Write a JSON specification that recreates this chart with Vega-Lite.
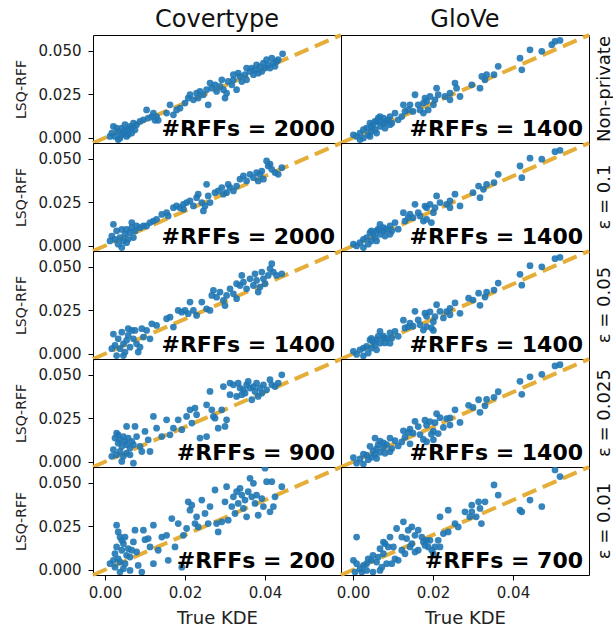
{
"$schema":"https://vega.github.io/schema/vega-lite/v6.json",
"padding":{"left":14,"top":8,"right":2,"bottom":2},
"bounds":"flush",
"config":{
"font":"DejaVu Sans",
"view":{"stroke":"black","strokeWidth":1},
"axis":{"grid":false,"domain":false,"tickColor":"black","tickSize":5,"labelFont":"DejaVu Sans","labelFontSize":15,"labelColor":"#222","titleFont":"DejaVu Sans","titleFontWeight":"normal","titleColor":"#222"},
"header":{"labelFont":"DejaVu Sans","labelColor":"#111"}
},
"data":{"values":[
{"d":"C","p":0,"label":"#RFFs = 2000"},{"d":"C","p":1,"label":"#RFFs = 2000"},{"d":"C","p":2,"label":"#RFFs = 1400"},{"d":"C","p":3,"label":"#RFFs = 900"},{"d":"C","p":4,"label":"#RFFs = 200"},
{"d":"G","p":0,"label":"#RFFs = 1400"},{"d":"G","p":1,"label":"#RFFs = 1400"},{"d":"G","p":2,"label":"#RFFs = 1400"},{"d":"G","p":3,"label":"#RFFs = 1400"},{"d":"G","p":4,"label":"#RFFs = 700"},
{"d":"C","p":0,"x":0.0021,"y":0.0065},{"d":"C","p":0,"x":0.0017,"y":0.0027},{"d":"C","p":0,"x":0.0025,"y":0.0008},{"d":"C","p":0,"x":0.0033,"y":0.0036},{"d":"C","p":0,"x":0.00375,"y":-0.0002},{"d":"C","p":0,"x":0.0042,"y":0.0055},{"d":"C","p":0,"x":0.0046,"y":0.0027},{"d":"C","p":0,"x":0.005,"y":0.0075},{"d":"C","p":0,"x":0.0054,"y":0.0008},{"d":"C","p":0,"x":0.0058,"y":0.0046},{"d":"C","p":0,"x":0.00625,"y":0.0065},{"d":"C","p":0,"x":0.0067,"y":0.0027},{"d":"C","p":0,"x":0.0071,"y":0.0084},{"d":"C","p":0,"x":0.0033,"y":-0.0011},{"d":"C","p":0,"x":0.0029,"y":0.0055},{"d":"C","p":0,"x":0.00125,"y":0.0008},{"d":"C","p":0,"x":0.0042,"y":0.0017},{"d":"C","p":0,"x":0.005,"y":0.0036},{"d":"C","p":0,"x":0.0058,"y":0.0017},{"d":"C","p":0,"x":0.0067,"y":0.0055},{"d":"C","p":0,"x":0.0075,"y":0.0046},{"d":"C","p":0,"x":0.0079,"y":0.0075},
{"d":"C","p":0,"x":0.00875,"y":0.0094},{"d":"C","p":0,"x":0.0096,"y":0.0103},{"d":"C","p":0,"x":0.0104,"y":0.016},{"d":"C","p":0,"x":0.0108,"y":0.0113},{"d":"C","p":0,"x":0.0117,"y":0.0122},{"d":"C","p":0,"x":0.0125,"y":0.01},{"d":"C","p":0,"x":0.0129,"y":0.0122},{"d":"C","p":0,"x":0.0133,"y":0.01},{"d":"C","p":0,"x":0.0121,"y":0.0142},
{"d":"C","p":0,"x":0.0154,"y":0.0142},{"d":"C","p":0,"x":0.01625,"y":0.0189},{"d":"C","p":0,"x":0.0171,"y":0.0132},{"d":"C","p":0,"x":0.0179,"y":0.016},{"d":"C","p":0,"x":0.01875,"y":0.017},{"d":"C","p":0,"x":0.02,"y":0.0199},{"d":"C","p":0,"x":0.0208,"y":0.0228},{"d":"C","p":0,"x":0.02125,"y":0.0247},{"d":"C","p":0,"x":0.0221,"y":0.0218},{"d":"C","p":0,"x":0.0229,"y":0.0256},{"d":"C","p":0,"x":0.0233,"y":0.0228},{"d":"C","p":0,"x":0.0246,"y":0.0247},{"d":"C","p":0,"x":0.0254,"y":0.0276},{"d":"C","p":0,"x":0.0258,"y":0.0189},{"d":"C","p":0,"x":0.0267,"y":0.0285},{"d":"C","p":0,"x":0.0275,"y":0.0304},{"d":"C","p":0,"x":0.0279,"y":0.0266},{"d":"C","p":0,"x":0.02875,"y":0.0295},{"d":"C","p":0,"x":0.0296,"y":0.0276},{"d":"C","p":0,"x":0.03,"y":0.0228},{"d":"C","p":0,"x":0.0304,"y":0.0256},{"d":"C","p":0,"x":0.0308,"y":0.0323},{"d":"C","p":0,"x":0.0317,"y":0.0304},{"d":"C","p":0,"x":0.0321,"y":0.0333},{"d":"C","p":0,"x":0.0329,"y":0.0276},{"d":"C","p":0,"x":0.03375,"y":0.0352},{"d":"C","p":0,"x":0.0342,"y":0.0323},{"d":"C","p":0,"x":0.035,"y":0.0362},{"d":"C","p":0,"x":0.0354,"y":0.0333},{"d":"C","p":0,"x":0.03625,"y":0.0381},{"d":"C","p":0,"x":0.0367,"y":0.04},{"d":"C","p":0,"x":0.0371,"y":0.0362},{"d":"C","p":0,"x":0.0375,"y":0.039},{"d":"C","p":0,"x":0.0383,"y":0.0371},{"d":"C","p":0,"x":0.03875,"y":0.0409},{"d":"C","p":0,"x":0.0392,"y":0.0381},{"d":"C","p":0,"x":0.0396,"y":0.0429},{"d":"C","p":0,"x":0.04,"y":0.04},{"d":"C","p":0,"x":0.0404,"y":0.0448},{"d":"C","p":0,"x":0.0408,"y":0.0419},{"d":"C","p":0,"x":0.04125,"y":0.04},{"d":"C","p":0,"x":0.0417,"y":0.0457},{"d":"C","p":0,"x":0.0421,"y":0.0429},{"d":"C","p":0,"x":0.0429,"y":0.0438},{"d":"C","p":0,"x":0.0433,"y":0.0448},{"d":"C","p":0,"x":0.0444,"y":0.0482},{"d":"C","p":0,"x":0.0425,"y":0.041},{"d":"C","p":0,"x":0.0379,"y":0.0419},{"d":"C","p":0,"x":0.0354,"y":0.04},{"d":"C","p":0,"x":0.0333,"y":0.0371},{"d":"C","p":0,"x":0.02375,"y":0.0266},{"d":"C","p":0,"x":0.02625,"y":0.0314},{"d":"C","p":0,"x":0.0292,"y":0.0333},{"d":"C","p":0,"x":0.0321,"y":0.0362},
{"d":"C","p":1,"x":0.0021,"y":0.0123},{"d":"C","p":1,"x":0.0017,"y":0.0056},{"d":"C","p":1,"x":0.0025,"y":0.0037},{"d":"C","p":1,"x":0.0029,"y":0.0085},{"d":"C","p":1,"x":0.00375,"y":0.0047},{"d":"C","p":1,"x":0.0042,"y":0.0094},{"d":"C","p":1,"x":0.0046,"y":0.0028},{"d":"C","p":1,"x":0.005,"y":0.0066},{"d":"C","p":1,"x":0.0054,"y":0.0094},{"d":"C","p":1,"x":0.0058,"y":0.0037},{"d":"C","p":1,"x":0.00625,"y":0.0075},{"d":"C","p":1,"x":0.0067,"y":0.0133},{"d":"C","p":1,"x":0.0071,"y":0.0047},{"d":"C","p":1,"x":0.0075,"y":0.0085},{"d":"C","p":1,"x":0.0033,"y":0.0009},{"d":"C","p":1,"x":0.0042,"y":-0.001},{"d":"C","p":1,"x":0.0054,"y":0.0018},{"d":"C","p":1,"x":0.00125,"y":0.0028},{"d":"C","p":1,"x":0.0079,"y":0.0114},{"d":"C","p":1,"x":0.0067,"y":0.0104},
{"d":"C","p":1,"x":0.00875,"y":0.0104},{"d":"C","p":1,"x":0.0096,"y":0.0114},{"d":"C","p":1,"x":0.0104,"y":0.0114},{"d":"C","p":1,"x":0.01125,"y":0.0133},{"d":"C","p":1,"x":0.0121,"y":0.0142},{"d":"C","p":1,"x":0.0129,"y":0.0152},{"d":"C","p":1,"x":0.0154,"y":0.019},{"d":"C","p":1,"x":0.0158,"y":0.0171},{"d":"C","p":1,"x":0.0171,"y":0.0219},{"d":"C","p":1,"x":0.0179,"y":0.0229},{"d":"C","p":1,"x":0.01875,"y":0.0219},{"d":"C","p":1,"x":0.0196,"y":0.0238},{"d":"C","p":1,"x":0.0204,"y":0.0248},{"d":"C","p":1,"x":0.02125,"y":0.0257},{"d":"C","p":1,"x":0.0221,"y":0.0229},{"d":"C","p":1,"x":0.0229,"y":0.0276},{"d":"C","p":1,"x":0.0233,"y":0.0296},{"d":"C","p":1,"x":0.0246,"y":0.02},{"d":"C","p":1,"x":0.025,"y":0.0229},{"d":"C","p":1,"x":0.0254,"y":0.0353},{"d":"C","p":1,"x":0.0258,"y":0.0286},{"d":"C","p":1,"x":0.02625,"y":0.0248},{"d":"C","p":1,"x":0.0275,"y":0.0305},{"d":"C","p":1,"x":0.0283,"y":0.0315},{"d":"C","p":1,"x":0.0292,"y":0.0334},{"d":"C","p":1,"x":0.0296,"y":0.0296},{"d":"C","p":1,"x":0.0304,"y":0.0305},{"d":"C","p":1,"x":0.03125,"y":0.0334},{"d":"C","p":1,"x":0.0321,"y":0.0315},{"d":"C","p":1,"x":0.0329,"y":0.0343},{"d":"C","p":1,"x":0.03375,"y":0.0382},{"d":"C","p":1,"x":0.0346,"y":0.0401},{"d":"C","p":1,"x":0.0354,"y":0.0372},{"d":"C","p":1,"x":0.03625,"y":0.041},{"d":"C","p":1,"x":0.0371,"y":0.0391},{"d":"C","p":1,"x":0.0379,"y":0.042},{"d":"C","p":1,"x":0.03875,"y":0.041},{"d":"C","p":1,"x":0.0392,"y":0.0429},{"d":"C","p":1,"x":0.0396,"y":0.0382},{"d":"C","p":1,"x":0.0404,"y":0.0487},{"d":"C","p":1,"x":0.0408,"y":0.0458},{"d":"C","p":1,"x":0.0417,"y":0.0439},{"d":"C","p":1,"x":0.0425,"y":0.042},{"d":"C","p":1,"x":0.0433,"y":0.041},{"d":"C","p":1,"x":0.0442,"y":0.0448},{"d":"C","p":1,"x":0.04125,"y":0.0468},{"d":"C","p":1,"x":0.0383,"y":0.0372},{"d":"C","p":1,"x":0.0308,"y":0.0353},{"d":"C","p":1,"x":0.0242,"y":0.0248},{"d":"C","p":1,"x":0.0196,"y":0.021},{"d":"C","p":1,"x":0.0142,"y":0.018},
{"d":"C","p":2,"x":0.0021,"y":0.0113},{"d":"C","p":2,"x":0.0025,"y":0.0048},{"d":"C","p":2,"x":0.0017,"y":0.0029},{"d":"C","p":2,"x":0.0033,"y":0.0086},{"d":"C","p":2,"x":0.00375,"y":0.0029},{"d":"C","p":2,"x":0.0042,"y":0.0124},{"d":"C","p":2,"x":0.0046,"y":0.0057},{"d":"C","p":2,"x":0.005,"y":0.001},{"d":"C","p":2,"x":0.0054,"y":0.0077},{"d":"C","p":2,"x":0.0058,"y":0.0105},{"d":"C","p":2,"x":0.00625,"y":0.0038},{"d":"C","p":2,"x":0.0067,"y":0.0134},{"d":"C","p":2,"x":0.0071,"y":0.0086},{"d":"C","p":2,"x":0.0079,"y":0.0057},{"d":"C","p":2,"x":0.0083,"y":0.001},{"d":"C","p":2,"x":0.00875,"y":0.0038},{"d":"C","p":2,"x":0.0096,"y":0.0096},{"d":"C","p":2,"x":0.0029,"y":-0.001},{"d":"C","p":2,"x":0.0046,"y":-0.001},{"d":"C","p":2,"x":0.0058,"y":0.0144},{"d":"C","p":2,"x":0.0075,"y":0.0134},
{"d":"C","p":2,"x":0.0092,"y":0.0144},{"d":"C","p":2,"x":0.0104,"y":0.0134},{"d":"C","p":2,"x":0.0117,"y":0.0172},{"d":"C","p":2,"x":0.0129,"y":0.0163},{"d":"C","p":2,"x":0.01125,"y":0.0086},{"d":"C","p":2,"x":0.0154,"y":0.0201},{"d":"C","p":2,"x":0.01625,"y":0.021},{"d":"C","p":2,"x":0.0171,"y":0.0153},{"d":"C","p":2,"x":0.0183,"y":0.0249},{"d":"C","p":2,"x":0.0192,"y":0.0239},{"d":"C","p":2,"x":0.02,"y":0.0249},{"d":"C","p":2,"x":0.0208,"y":0.023},{"d":"C","p":2,"x":0.02125,"y":0.0297},{"d":"C","p":2,"x":0.0221,"y":0.0249},{"d":"C","p":2,"x":0.0229,"y":0.022},{"d":"C","p":2,"x":0.0242,"y":0.0297},{"d":"C","p":2,"x":0.0254,"y":0.0258},{"d":"C","p":2,"x":0.02625,"y":0.0249},{"d":"C","p":2,"x":0.0271,"y":0.0364},{"d":"C","p":2,"x":0.0279,"y":0.0325},{"d":"C","p":2,"x":0.02875,"y":0.0354},{"d":"C","p":2,"x":0.0296,"y":0.0306},{"d":"C","p":2,"x":0.03,"y":0.0277},{"d":"C","p":2,"x":0.0304,"y":0.0335},{"d":"C","p":2,"x":0.03125,"y":0.0373},{"d":"C","p":2,"x":0.0321,"y":0.0344},{"d":"C","p":2,"x":0.0329,"y":0.0316},{"d":"C","p":2,"x":0.03375,"y":0.0392},{"d":"C","p":2,"x":0.0342,"y":0.045},{"d":"C","p":2,"x":0.0346,"y":0.0411},{"d":"C","p":2,"x":0.0354,"y":0.0373},{"d":"C","p":2,"x":0.03625,"y":0.043},{"d":"C","p":2,"x":0.0371,"y":0.0392},{"d":"C","p":2,"x":0.0375,"y":0.0459},{"d":"C","p":2,"x":0.0379,"y":0.0421},{"d":"C","p":2,"x":0.0383,"y":0.0354},{"d":"C","p":2,"x":0.03875,"y":0.0383},{"d":"C","p":2,"x":0.0392,"y":0.0469},{"d":"C","p":2,"x":0.0396,"y":0.043},{"d":"C","p":2,"x":0.04,"y":0.0402},{"d":"C","p":2,"x":0.0408,"y":0.045},{"d":"C","p":2,"x":0.0417,"y":0.0517},{"d":"C","p":2,"x":0.0421,"y":0.0469},{"d":"C","p":2,"x":0.0429,"y":0.045},{"d":"C","p":2,"x":0.0442,"y":0.0459},{"d":"C","p":2,"x":0.04125,"y":0.0488},{"d":"C","p":2,"x":0.0329,"y":0.0402},{"d":"C","p":2,"x":0.0267,"y":0.0335},
{"d":"C","p":3,"x":0.0025,"y":0.0136},{"d":"C","p":3,"x":0.0029,"y":0.0165},{"d":"C","p":3,"x":0.0033,"y":0.0107},{"d":"C","p":3,"x":0.00375,"y":0.0126},{"d":"C","p":3,"x":0.0042,"y":0.0088},{"d":"C","p":3,"x":0.0046,"y":0.0145},{"d":"C","p":3,"x":0.005,"y":0.0117},{"d":"C","p":3,"x":0.0054,"y":0.0098},{"d":"C","p":3,"x":0.0058,"y":0.0136},{"d":"C","p":3,"x":0.00625,"y":0.0078},{"d":"C","p":3,"x":0.0067,"y":0.0117},{"d":"C","p":3,"x":0.0071,"y":0.0098},{"d":"C","p":3,"x":0.0021,"y":0.0069},{"d":"C","p":3,"x":0.0017,"y":0.0031},{"d":"C","p":3,"x":0.0029,"y":0.004},{"d":"C","p":3,"x":0.00375,"y":0.0059},{"d":"C","p":3,"x":0.0046,"y":0.0031},{"d":"C","p":3,"x":0.0054,"y":0.005},{"d":"C","p":3,"x":0.00625,"y":0.004},{"d":"C","p":3,"x":0.0042,"y":0.0002},{"d":"C","p":3,"x":0.0071,"y":-0.0008},{"d":"C","p":3,"x":0.0079,"y":0.0145},{"d":"C","p":3,"x":0.0054,"y":0.0203},{"d":"C","p":3,"x":0.0075,"y":0.0203},{"d":"C","p":3,"x":0.00875,"y":0.0088},{"d":"C","p":3,"x":0.01,"y":0.0174},{"d":"C","p":3,"x":0.01125,"y":0.0059},{"d":"C","p":3,"x":0.0108,"y":0.0126},{"d":"C","p":3,"x":0.0092,"y":0.0059},{"d":"C","p":3,"x":0.0033,"y":0.0155},
{"d":"C","p":3,"x":0.0121,"y":0.026},{"d":"C","p":3,"x":0.0129,"y":0.0193},{"d":"C","p":3,"x":0.0142,"y":0.0145},{"d":"C","p":3,"x":0.0154,"y":0.0241},{"d":"C","p":3,"x":0.01625,"y":0.0155},{"d":"C","p":3,"x":0.0171,"y":0.0193},{"d":"C","p":3,"x":0.0183,"y":0.0241},{"d":"C","p":3,"x":0.0192,"y":0.0184},{"d":"C","p":3,"x":0.0204,"y":0.026},{"d":"C","p":3,"x":0.02125,"y":0.0298},{"d":"C","p":3,"x":0.0217,"y":0.0222},{"d":"C","p":3,"x":0.0225,"y":0.0308},{"d":"C","p":3,"x":0.0229,"y":0.027},{"d":"C","p":3,"x":0.02375,"y":0.0136},{"d":"C","p":3,"x":0.0254,"y":0.0145},{"d":"C","p":3,"x":0.0254,"y":0.0327},{"d":"C","p":3,"x":0.02625,"y":0.0404},{"d":"C","p":3,"x":0.0267,"y":0.0298},{"d":"C","p":3,"x":0.0271,"y":0.026},{"d":"C","p":3,"x":0.0275,"y":0.025},{"d":"C","p":3,"x":0.0283,"y":0.0193},{"d":"C","p":3,"x":0.0292,"y":0.0298},{"d":"C","p":3,"x":0.0296,"y":0.0432},{"d":"C","p":3,"x":0.03,"y":0.0203},{"d":"C","p":3,"x":0.0304,"y":0.0241},{"d":"C","p":3,"x":0.03125,"y":0.0452},{"d":"C","p":3,"x":0.0321,"y":0.0442},{"d":"C","p":3,"x":0.0329,"y":0.0375},{"d":"C","p":3,"x":0.0333,"y":0.0452},{"d":"C","p":3,"x":0.03375,"y":0.0423},{"d":"C","p":3,"x":0.0346,"y":0.0413},{"d":"C","p":3,"x":0.035,"y":0.0394},{"d":"C","p":3,"x":0.0354,"y":0.0442},{"d":"C","p":3,"x":0.0358,"y":0.0461},{"d":"C","p":3,"x":0.03625,"y":0.0423},{"d":"C","p":3,"x":0.0367,"y":0.0356},{"d":"C","p":3,"x":0.0371,"y":0.0432},{"d":"C","p":3,"x":0.0375,"y":0.0404},{"d":"C","p":3,"x":0.0379,"y":0.0452},{"d":"C","p":3,"x":0.03875,"y":0.0423},{"d":"C","p":3,"x":0.0392,"y":0.0394},{"d":"C","p":3,"x":0.0396,"y":0.0442},{"d":"C","p":3,"x":0.0404,"y":0.0413},{"d":"C","p":3,"x":0.04125,"y":0.0471},{"d":"C","p":3,"x":0.0417,"y":0.0442},{"d":"C","p":3,"x":0.0425,"y":0.0432},{"d":"C","p":3,"x":0.0433,"y":0.0452},{"d":"C","p":3,"x":0.0442,"y":0.0499},{"d":"C","p":3,"x":0.0383,"y":0.0375},{"d":"C","p":3,"x":0.0342,"y":0.0385},{"d":"C","p":3,"x":0.03125,"y":0.0385},
{"d":"C","p":4,"x":0.0029,"y":0.0256},{"d":"C","p":4,"x":0.0033,"y":0.0217},{"d":"C","p":4,"x":0.00375,"y":0.0188},{"d":"C","p":4,"x":0.0042,"y":0.0169},{"d":"C","p":4,"x":0.0029,"y":0.0131},{"d":"C","p":4,"x":0.0025,"y":0.0092},{"d":"C","p":4,"x":0.0021,"y":0.0054},{"d":"C","p":4,"x":0.0033,"y":0.0063},{"d":"C","p":4,"x":0.00375,"y":0.0044},{"d":"C","p":4,"x":0.0042,"y":0.0112},{"d":"C","p":4,"x":0.0046,"y":0.015},{"d":"C","p":4,"x":0.005,"y":0.0035},{"d":"C","p":4,"x":0.0054,"y":0.0083},{"d":"C","p":4,"x":0.0058,"y":0.0121},{"d":"C","p":4,"x":0.00625,"y":0.0073},{"d":"C","p":4,"x":0.0071,"y":0.016},{"d":"C","p":4,"x":0.0075,"y":0.0227},{"d":"C","p":4,"x":0.0079,"y":0.0102},{"d":"C","p":4,"x":0.0083,"y":0.0025},{"d":"C","p":4,"x":0.0092,"y":-0.0013},{"d":"C","p":4,"x":0.0025,"y":0.0015},{"d":"C","p":4,"x":0.00375,"y":-0.0013},{"d":"C","p":4,"x":0.0046,"y":0.0006},{"d":"C","p":4,"x":0.00625,"y":-0.0004},{"d":"C","p":4,"x":0.00125,"y":0.0035},{"d":"C","p":4,"x":0.005,"y":0.0188},{"d":"C","p":4,"x":0.0067,"y":0.0112},
{"d":"C","p":4,"x":0.0096,"y":0.0227},{"d":"C","p":4,"x":0.01,"y":0.0173},{"d":"C","p":4,"x":0.0108,"y":0.0179},{"d":"C","p":4,"x":0.01125,"y":0.0131},{"d":"C","p":4,"x":0.0121,"y":0.0256},{"d":"C","p":4,"x":0.0121,"y":0.0035},{"d":"C","p":4,"x":0.0133,"y":0.0112},{"d":"C","p":4,"x":0.0142,"y":0.0188},{"d":"C","p":4,"x":0.0154,"y":0.0198},{"d":"C","p":4,"x":0.0158,"y":0.0054},{"d":"C","p":4,"x":0.0167,"y":0.0294},{"d":"C","p":4,"x":0.0175,"y":0.0131},{"d":"C","p":4,"x":0.0183,"y":0.0265},{"d":"C","p":4,"x":0.0192,"y":0.0015},{"d":"C","p":4,"x":0.0196,"y":0.0198},{"d":"C","p":4,"x":0.0204,"y":0.0237},{"d":"C","p":4,"x":0.0208,"y":0.039},{"d":"C","p":4,"x":0.02125,"y":0.0342},{"d":"C","p":4,"x":0.0217,"y":0.0371},{"d":"C","p":4,"x":0.0225,"y":0.0265},{"d":"C","p":4,"x":0.0229,"y":0.0304},{"d":"C","p":4,"x":0.0233,"y":0.0246},{"d":"C","p":4,"x":0.0242,"y":0.04},{"d":"C","p":4,"x":0.025,"y":0.0323},{"d":"C","p":4,"x":0.0258,"y":0.0265},{"d":"C","p":4,"x":0.02625,"y":0.0362},{"d":"C","p":4,"x":0.0275,"y":0.0458},{"d":"C","p":4,"x":0.0279,"y":0.0265},{"d":"C","p":4,"x":0.0283,"y":0.0217},{"d":"C","p":4,"x":0.0292,"y":0.0275},{"d":"C","p":4,"x":0.03,"y":0.039},{"d":"C","p":4,"x":0.0304,"y":0.0477},{"d":"C","p":4,"x":0.0308,"y":0.0285},{"d":"C","p":4,"x":0.0317,"y":0.0362},{"d":"C","p":4,"x":0.0321,"y":0.0419},{"d":"C","p":4,"x":0.0325,"y":0.0323},{"d":"C","p":4,"x":0.0329,"y":0.0448},{"d":"C","p":4,"x":0.0333,"y":0.0381},{"d":"C","p":4,"x":0.03375,"y":0.0467},{"d":"C","p":4,"x":0.0342,"y":0.0429},{"d":"C","p":4,"x":0.0346,"y":0.0352},{"d":"C","p":4,"x":0.035,"y":0.04},{"d":"C","p":4,"x":0.0354,"y":0.0304},{"d":"C","p":4,"x":0.0358,"y":0.0448},{"d":"C","p":4,"x":0.03625,"y":0.0525},{"d":"C","p":4,"x":0.0367,"y":0.0419},{"d":"C","p":4,"x":0.0371,"y":0.0496},{"d":"C","p":4,"x":0.0375,"y":0.0381},{"d":"C","p":4,"x":0.0379,"y":0.0429},{"d":"C","p":4,"x":0.0383,"y":0.0313},{"d":"C","p":4,"x":0.0392,"y":0.0409},{"d":"C","p":4,"x":0.0396,"y":0.0362},{"d":"C","p":4,"x":0.04,"y":0.0583},{"d":"C","p":4,"x":0.0404,"y":0.0506},{"d":"C","p":4,"x":0.04125,"y":0.0333},{"d":"C","p":4,"x":0.0417,"y":0.0506},{"d":"C","p":4,"x":0.0421,"y":0.0362},{"d":"C","p":4,"x":0.0425,"y":0.0419},{"d":"C","p":4,"x":0.0442,"y":0.0477},
{"d":"G","p":0,"x":0.0505,"y":0.0553},{"d":"G","p":0,"x":0.05175,"y":0.0559},{"d":"G","p":0,"x":0.0497,"y":0.0534},{"d":"G","p":0,"x":0.04425,"y":0.0505},{"d":"G","p":0,"x":0.0472,"y":0.0496},{"d":"G","p":0,"x":0.04175,"y":0.0457},{"d":"G","p":0,"x":0.0422,"y":0.039},{"d":"G","p":0,"x":0.0363,"y":0.041},{"d":"G","p":0,"x":0.03525,"y":0.0362},{"d":"G","p":0,"x":0.0334,"y":0.0362},{"d":"G","p":0,"x":0.033,"y":0.0333},{"d":"G","p":0,"x":0.0322,"y":0.0352},{"d":"G","p":0,"x":0.03175,"y":0.0285},{"d":"G","p":0,"x":0.0297,"y":0.0304},{"d":"G","p":0,"x":0.02675,"y":0.0237},{"d":"G","p":0,"x":0.0259,"y":0.0285},{"d":"G","p":0,"x":0.0255,"y":0.0314},{"d":"G","p":0,"x":0.02425,"y":0.0256},{"d":"G","p":0,"x":0.023,"y":0.0237},{"d":"G","p":0,"x":0.0209,"y":0.0285},{"d":"G","p":0,"x":0.0213,"y":0.0247},{"d":"G","p":0,"x":0.0205,"y":0.0218},{"d":"G","p":0,"x":0.01925,"y":0.0237},{"d":"G","p":0,"x":0.0184,"y":0.0209},{"d":"G","p":0,"x":0.0176,"y":0.0199},{"d":"G","p":0,"x":0.0155,"y":0.0247},{"d":"G","p":0,"x":0.0163,"y":0.0189},{"d":"G","p":0,"x":0.01425,"y":0.0189},{"d":"G","p":0,"x":0.0126,"y":0.0189},{"d":"G","p":0,"x":0.013,"y":0.0151},{"d":"G","p":0,"x":0.0122,"y":0.0122},{"d":"G","p":0,"x":0.015,"y":0.0151},{"d":"G","p":0,"x":0.01675,"y":0.016},{"d":"G","p":0,"x":0.0176,"y":0.0142},{"d":"G","p":0,"x":0.0188,"y":0.016},{"d":"G","p":0,"x":0.0105,"y":0.0142},{"d":"G","p":0,"x":0.00925,"y":0.0122},{"d":"G","p":0,"x":0.0076,"y":0.0113},{"d":"G","p":0,"x":0.00675,"y":0.0122},{"d":"G","p":0,"x":0.0059,"y":0.0094},{"d":"G","p":0,"x":0.0063,"y":0.0113},{"d":"G","p":0,"x":0.005,"y":0.0075},{"d":"G","p":0,"x":0.00425,"y":0.0084},{"d":"G","p":0,"x":0.0034,"y":0.0055},{"d":"G","p":0,"x":0.0026,"y":0.0046},{"d":"G","p":0,"x":0.00175,"y":0.0027},{"d":"G","p":0,"x":0.0009,"y":0.0008},{"d":"G","p":0,"x":0.0001,"y":0.0017},{"d":"G","p":0,"x":0.0026,"y":-0.0002},{"d":"G","p":0,"x":0.0038,"y":0.0017},{"d":"G","p":0,"x":0.0046,"y":0.0036},{"d":"G","p":0,"x":0.0055,"y":0.0046},{"d":"G","p":0,"x":0.00675,"y":0.0065},{"d":"G","p":0,"x":0.0076,"y":0.0084},{"d":"G","p":0,"x":0.0084,"y":0.0094},{"d":"G","p":0,"x":0.0088,"y":0.0103},{"d":"G","p":0,"x":0.0097,"y":0.0084},{"d":"G","p":0,"x":0.0113,"y":0.0103},{"d":"G","p":0,"x":0.0138,"y":0.016},{"d":"G","p":0,"x":0.00675,"y":0.0094},{"d":"G","p":0,"x":0.0055,"y":0.0094},{"d":"G","p":0,"x":0.0046,"y":0.0065},{"d":"G","p":0,"x":0.008,"y":0.0055},{"d":"G","p":0,"x":0.00925,"y":0.0075},{"d":"G","p":0,"x":0.0059,"y":0.0027},{"d":"G","p":0,"x":0.00425,"y":0.0008},{"d":"G","p":0,"x":0.00175,"y":-0.0011},{"d":"G","p":0,"x":0.0201,"y":0.0189},{"d":"G","p":0,"x":0.018,"y":0.0228},{"d":"G","p":0,"x":0.02425,"y":0.0218},
{"d":"G","p":1,"x":0.0505,"y":0.054},{"d":"G","p":1,"x":0.05175,"y":0.0548},{"d":"G","p":1,"x":0.0472,"y":0.0497},{"d":"G","p":1,"x":0.04425,"y":0.0503},{"d":"G","p":1,"x":0.04175,"y":0.0458},{"d":"G","p":1,"x":0.0422,"y":0.0391},{"d":"G","p":1,"x":0.0363,"y":0.041},{"d":"G","p":1,"x":0.03525,"y":0.0363},{"d":"G","p":1,"x":0.0334,"y":0.0353},{"d":"G","p":1,"x":0.0326,"y":0.0324},{"d":"G","p":1,"x":0.03175,"y":0.0276},{"d":"G","p":1,"x":0.03,"y":0.0305},{"d":"G","p":1,"x":0.02675,"y":0.0229},{"d":"G","p":1,"x":0.0255,"y":0.0296},{"d":"G","p":1,"x":0.02425,"y":0.0257},{"d":"G","p":1,"x":0.0234,"y":0.0238},{"d":"G","p":1,"x":0.0209,"y":0.0286},{"d":"G","p":1,"x":0.02175,"y":0.0248},{"d":"G","p":1,"x":0.01925,"y":0.0238},{"d":"G","p":1,"x":0.0184,"y":0.0219},{"d":"G","p":1,"x":0.0155,"y":0.0238},{"d":"G","p":1,"x":0.0163,"y":0.019},{"d":"G","p":1,"x":0.01425,"y":0.0181},{"d":"G","p":1,"x":0.0126,"y":0.019},{"d":"G","p":1,"x":0.015,"y":0.0161},{"d":"G","p":1,"x":0.01675,"y":0.0171},{"d":"G","p":1,"x":0.0176,"y":0.0142},{"d":"G","p":1,"x":0.0196,"y":0.0133},{"d":"G","p":1,"x":0.0184,"y":0.0152},{"d":"G","p":1,"x":0.0105,"y":0.0133},{"d":"G","p":1,"x":0.00925,"y":0.0114},{"d":"G","p":1,"x":0.0076,"y":0.0104},{"d":"G","p":1,"x":0.00675,"y":0.0123},{"d":"G","p":1,"x":0.0059,"y":0.0085},{"d":"G","p":1,"x":0.005,"y":0.0066},{"d":"G","p":1,"x":0.00425,"y":0.0076},{"d":"G","p":1,"x":0.0034,"y":0.0047},{"d":"G","p":1,"x":0.0026,"y":0.0037},{"d":"G","p":1,"x":0.00175,"y":0.0018},{"d":"G","p":1,"x":0.0009,"y":-0.0001},{"d":"G","p":1,"x":0.0001,"y":0.0009},{"d":"G","p":1,"x":0.0038,"y":0.0009},{"d":"G","p":1,"x":0.0046,"y":0.0028},{"d":"G","p":1,"x":0.0055,"y":0.0047},{"d":"G","p":1,"x":0.00675,"y":0.0066},{"d":"G","p":1,"x":0.0076,"y":0.0085},{"d":"G","p":1,"x":0.0084,"y":0.0095},{"d":"G","p":1,"x":0.0097,"y":0.0085},{"d":"G","p":1,"x":0.0113,"y":0.0095},{"d":"G","p":1,"x":0.013,"y":0.0142},{"d":"G","p":1,"x":0.0138,"y":0.0161},{"d":"G","p":1,"x":0.0063,"y":0.0095},{"d":"G","p":1,"x":0.0046,"y":0.0085},{"d":"G","p":1,"x":0.008,"y":0.0056},{"d":"G","p":1,"x":0.00925,"y":0.0066},{"d":"G","p":1,"x":0.0059,"y":0.0028},{"d":"G","p":1,"x":0.0026,"y":-0.001},{"d":"G","p":1,"x":0.0201,"y":0.019},{"d":"G","p":1,"x":0.018,"y":0.0228},{"d":"G","p":1,"x":0.02425,"y":0.0219},{"d":"G","p":1,"x":0.0205,"y":0.0219},{"d":"G","p":1,"x":0.0314,"y":0.0343},
{"d":"G","p":2,"x":0.0505,"y":0.0546},{"d":"G","p":2,"x":0.05175,"y":0.0554},{"d":"G","p":2,"x":0.0472,"y":0.0499},{"d":"G","p":2,"x":0.04425,"y":0.0506},{"d":"G","p":2,"x":0.04175,"y":0.0456},{"d":"G","p":2,"x":0.0422,"y":0.0394},{"d":"G","p":2,"x":0.0363,"y":0.0406},{"d":"G","p":2,"x":0.03525,"y":0.0366},{"d":"G","p":2,"x":0.0334,"y":0.0354},{"d":"G","p":2,"x":0.033,"y":0.0326},{"d":"G","p":2,"x":0.03175,"y":0.0278},{"d":"G","p":2,"x":0.03,"y":0.0308},{"d":"G","p":2,"x":0.02675,"y":0.0232},{"d":"G","p":2,"x":0.0255,"y":0.0292},{"d":"G","p":2,"x":0.02425,"y":0.026},{"d":"G","p":2,"x":0.0234,"y":0.0242},{"d":"G","p":2,"x":0.0209,"y":0.0282},{"d":"G","p":2,"x":0.02175,"y":0.0244},{"d":"G","p":2,"x":0.01925,"y":0.0241},{"d":"G","p":2,"x":0.0184,"y":0.0215},{"d":"G","p":2,"x":0.0155,"y":0.0244},{"d":"G","p":2,"x":0.0163,"y":0.0194},{"d":"G","p":2,"x":0.01425,"y":0.0176},{"d":"G","p":2,"x":0.0126,"y":0.0193},{"d":"G","p":2,"x":0.015,"y":0.0158},{"d":"G","p":2,"x":0.01675,"y":0.0166},{"d":"G","p":2,"x":0.0176,"y":0.0136},{"d":"G","p":2,"x":0.0201,"y":0.0134},{"d":"G","p":2,"x":0.0184,"y":0.0156},{"d":"G","p":2,"x":0.0196,"y":0.0149},{"d":"G","p":2,"x":0.0105,"y":0.0128},{"d":"G","p":2,"x":0.00925,"y":0.012},{"d":"G","p":2,"x":0.0076,"y":0.0101},{"d":"G","p":2,"x":0.00675,"y":0.0128},{"d":"G","p":2,"x":0.0059,"y":0.0081},{"d":"G","p":2,"x":0.005,"y":0.007},{"d":"G","p":2,"x":0.00425,"y":0.0079},{"d":"G","p":2,"x":0.0034,"y":0.0042},{"d":"G","p":2,"x":0.0026,"y":0.0033},{"d":"G","p":2,"x":0.00175,"y":0.0023},{"d":"G","p":2,"x":0.0009,"y":-0.0004},{"d":"G","p":2,"x":0.0001,"y":0.0014},{"d":"G","p":2,"x":0.0038,"y":0.0004},{"d":"G","p":2,"x":0.0046,"y":0.0032},{"d":"G","p":2,"x":0.0055,"y":0.0051},{"d":"G","p":2,"x":0.00675,"y":0.0061},{"d":"G","p":2,"x":0.0076,"y":0.009},{"d":"G","p":2,"x":0.0084,"y":0.0089},{"d":"G","p":2,"x":0.0097,"y":0.0091},{"d":"G","p":2,"x":0.0113,"y":0.01},{"d":"G","p":2,"x":0.013,"y":0.0148},{"d":"G","p":2,"x":0.0138,"y":0.0155},{"d":"G","p":2,"x":0.0063,"y":0.01},{"d":"G","p":2,"x":0.0046,"y":0.0089},{"d":"G","p":2,"x":0.008,"y":0.0062},{"d":"G","p":2,"x":0.00925,"y":0.0061},{"d":"G","p":2,"x":0.0059,"y":0.0023},{"d":"G","p":2,"x":0.0026,"y":-0.0012},{"d":"G","p":2,"x":0.0201,"y":0.0184},{"d":"G","p":2,"x":0.018,"y":0.0233},{"d":"G","p":2,"x":0.02425,"y":0.0224},{"d":"G","p":2,"x":0.0205,"y":0.0213},{"d":"G","p":2,"x":0.0314,"y":0.0348},{"d":"G","p":2,"x":0.0289,"y":0.0319},{"d":"G","p":2,"x":0.0226,"y":0.0206},
{"d":"G","p":3,"x":0.0505,"y":0.055},{"d":"G","p":3,"x":0.05175,"y":0.0557},{"d":"G","p":3,"x":0.0472,"y":0.0502},{"d":"G","p":3,"x":0.04425,"y":0.0488},{"d":"G","p":3,"x":0.04175,"y":0.0462},{"d":"G","p":3,"x":0.0422,"y":0.0387},{"d":"G","p":3,"x":0.0363,"y":0.0402},{"d":"G","p":3,"x":0.03525,"y":0.037},{"d":"G","p":3,"x":0.0334,"y":0.0358},{"d":"G","p":3,"x":0.033,"y":0.0321},{"d":"G","p":3,"x":0.03175,"y":0.0284},{"d":"G","p":3,"x":0.03,"y":0.0312},{"d":"G","p":3,"x":0.02675,"y":0.0226},{"d":"G","p":3,"x":0.0255,"y":0.0298},{"d":"G","p":3,"x":0.02425,"y":0.0252},{"d":"G","p":3,"x":0.0234,"y":0.0248},{"d":"G","p":3,"x":0.0209,"y":0.0276},{"d":"G","p":3,"x":0.02175,"y":0.0253},{"d":"G","p":3,"x":0.01925,"y":0.0231},{"d":"G","p":3,"x":0.0184,"y":0.021},{"d":"G","p":3,"x":0.0155,"y":0.0232},{"d":"G","p":3,"x":0.0163,"y":0.0202},{"d":"G","p":3,"x":0.01425,"y":0.0188},{"d":"G","p":3,"x":0.0126,"y":0.0178},{"d":"G","p":3,"x":0.015,"y":0.0164},{"d":"G","p":3,"x":0.01675,"y":0.0156},{"d":"G","p":3,"x":0.0176,"y":0.0128},{"d":"G","p":3,"x":0.0201,"y":0.0126},{"d":"G","p":3,"x":0.0184,"y":0.0115},{"d":"G","p":3,"x":0.0196,"y":0.0158},{"d":"G","p":3,"x":0.0213,"y":0.0162},{"d":"G","p":3,"x":0.0105,"y":0.0121},{"d":"G","p":3,"x":0.00925,"y":0.0136},{"d":"G","p":3,"x":0.0076,"y":0.0108},{"d":"G","p":3,"x":0.00675,"y":0.0119},{"d":"G","p":3,"x":0.0055,"y":0.0136},{"d":"G","p":3,"x":0.0059,"y":0.0076},{"d":"G","p":3,"x":0.005,"y":0.0063},{"d":"G","p":3,"x":0.00425,"y":0.0089},{"d":"G","p":3,"x":0.0034,"y":0.0038},{"d":"G","p":3,"x":0.0026,"y":0.0044},{"d":"G","p":3,"x":0.00175,"y":0.0016},{"d":"G","p":3,"x":0.0009,"y":-0.0008},{"d":"G","p":3,"x":0.0001,"y":0.0024},{"d":"G","p":3,"x":0.0038,"y":0.0012},{"d":"G","p":3,"x":0.0046,"y":0.0026},{"d":"G","p":3,"x":0.0055,"y":0.0042},{"d":"G","p":3,"x":0.00675,"y":0.0054},{"d":"G","p":3,"x":0.0076,"y":0.0081},{"d":"G","p":3,"x":0.0084,"y":0.0099},{"d":"G","p":3,"x":0.0097,"y":0.0076},{"d":"G","p":3,"x":0.0113,"y":0.0091},{"d":"G","p":3,"x":0.013,"y":0.0141},{"d":"G","p":3,"x":0.0138,"y":0.0168},{"d":"G","p":3,"x":0.01425,"y":0.0103},{"d":"G","p":3,"x":0.0063,"y":0.0099},{"d":"G","p":3,"x":0.008,"y":0.0049},{"d":"G","p":3,"x":0.00925,"y":0.0058},{"d":"G","p":3,"x":0.0059,"y":0.0019},{"d":"G","p":3,"x":0.0026,"y":-0.0013},{"d":"G","p":3,"x":0.0201,"y":0.0176},{"d":"G","p":3,"x":0.018,"y":0.0239},{"d":"G","p":3,"x":0.02425,"y":0.0211},{"d":"G","p":3,"x":0.0205,"y":0.0224},{"d":"G","p":3,"x":0.0314,"y":0.0356},{"d":"G","p":3,"x":0.0289,"y":0.0324},{"d":"G","p":3,"x":0.0226,"y":0.0197},{"d":"G","p":3,"x":0.0122,"y":0.0114},
{"d":"G","p":4,"x":0.0505,"y":0.0573},{"d":"G","p":4,"x":0.05175,"y":0.0535},{"d":"G","p":4,"x":0.03525,"y":0.0487},{"d":"G","p":4,"x":0.0363,"y":0.0429},{"d":"G","p":4,"x":0.04425,"y":0.04},{"d":"G","p":4,"x":0.0472,"y":0.0362},{"d":"G","p":4,"x":0.04175,"y":0.0342},{"d":"G","p":4,"x":0.0422,"y":0.0333},{"d":"G","p":4,"x":0.033,"y":0.039},{"d":"G","p":4,"x":0.0314,"y":0.039},{"d":"G","p":4,"x":0.0297,"y":0.0371},{"d":"G","p":4,"x":0.03175,"y":0.0352},{"d":"G","p":4,"x":0.0308,"y":0.0304},{"d":"G","p":4,"x":0.0321,"y":0.0265},{"d":"G","p":4,"x":0.028,"y":0.0333},{"d":"G","p":4,"x":0.0297,"y":0.0333},{"d":"G","p":4,"x":0.0292,"y":0.0304},{"d":"G","p":4,"x":0.0238,"y":0.0342},{"d":"G","p":4,"x":0.02175,"y":0.0304},{"d":"G","p":4,"x":0.0255,"y":0.0265},{"d":"G","p":4,"x":0.0263,"y":0.0246},{"d":"G","p":4,"x":0.0238,"y":0.0217},{"d":"G","p":4,"x":0.0226,"y":0.0208},{"d":"G","p":4,"x":0.0213,"y":0.0169},{"d":"G","p":4,"x":0.0205,"y":0.0131},{"d":"G","p":4,"x":0.0197,"y":0.0112},{"d":"G","p":4,"x":0.0188,"y":0.0131},{"d":"G","p":4,"x":0.0184,"y":0.0169},{"d":"G","p":4,"x":0.0172,"y":0.0188},{"d":"G","p":4,"x":0.0163,"y":0.0227},{"d":"G","p":4,"x":0.0155,"y":0.0198},{"d":"G","p":4,"x":0.0147,"y":0.0246},{"d":"G","p":4,"x":0.0138,"y":0.0227},{"d":"G","p":4,"x":0.0134,"y":0.0179},{"d":"G","p":4,"x":0.0126,"y":0.0275},{"d":"G","p":4,"x":0.0109,"y":0.0237},{"d":"G","p":4,"x":0.0122,"y":0.0188},{"d":"G","p":4,"x":0.00925,"y":0.0188},{"d":"G","p":4,"x":0.0088,"y":0.0131},{"d":"G","p":4,"x":0.008,"y":0.015},{"d":"G","p":4,"x":0.0076,"y":0.0092},{"d":"G","p":4,"x":0.00675,"y":0.0121},{"d":"G","p":4,"x":0.0063,"y":0.0073},{"d":"G","p":4,"x":0.0059,"y":0.0044},{"d":"G","p":4,"x":0.005,"y":0.0083},{"d":"G","p":4,"x":0.0046,"y":0.0054},{"d":"G","p":4,"x":0.0038,"y":0.0063},{"d":"G","p":4,"x":0.0034,"y":0.0035},{"d":"G","p":4,"x":0.0026,"y":0.0025},{"d":"G","p":4,"x":0.00175,"y":0.0006},{"d":"G","p":4,"x":0.0009,"y":0.0035},{"d":"G","p":4,"x":0.0009,"y":0.0188},{"d":"G","p":4,"x":0.0001,"y":0.0054},{"d":"G","p":4,"x":0.0005,"y":-0.0013},{"d":"G","p":4,"x":0.0022,"y":-0.0013},{"d":"G","p":4,"x":0.0034,"y":-0.0004},{"d":"G","p":4,"x":0.005,"y":-0.0013},{"d":"G","p":4,"x":0.00675,"y":-0.0004},{"d":"G","p":4,"x":0.0072,"y":0.0015},{"d":"G","p":4,"x":0.0084,"y":0.0035},{"d":"G","p":4,"x":0.0097,"y":0.0035},{"d":"G","p":4,"x":0.0105,"y":0.0063},{"d":"G","p":4,"x":0.0113,"y":0.0054},{"d":"G","p":4,"x":0.013,"y":0.0092},{"d":"G","p":4,"x":0.0122,"y":0.0112},{"d":"G","p":4,"x":0.01425,"y":0.0131},{"d":"G","p":4,"x":0.0163,"y":0.0112},{"d":"G","p":4,"x":0.0155,"y":0.0102},{"d":"G","p":4,"x":0.0101,"y":0.0131},{"d":"G","p":4,"x":0.0076,"y":0.0159},{"d":"G","p":4,"x":0.0147,"y":0.015},{"d":"G","p":4,"x":0.0176,"y":0.016},{"d":"G","p":4,"x":0.018,"y":0.014},{"d":"G","p":4,"x":0.01925,"y":0.0169},{"d":"G","p":4,"x":0.0201,"y":0.0092},{"d":"G","p":4,"x":0.02175,"y":0.0131}
]},
"facet":{
"column":{"field":"d","type":"nominal","title":null,"header":{"labelExpr":"datum.value == 'C' ? 'Covertype' : 'GloVe'","labelFontSize":24,"labelPadding":3}},
"row":{"field":"p","type":"ordinal","title":null,"header":{"labelOrient":"right","labelAngle":-90,"labelAlign":"center","labelExpr":"['Non-private','ε = 0.1','ε = 0.05','ε = 0.025','ε = 0.01'][datum.value]","labelFontSize":18,"labelPadding":-2}}
},
"spacing":{"row":0,"column":0},
"resolve":{"scale":{"x":"shared","y":"shared"}},
"spec":{
"width":248,"height":108,
"layer":[
{"transform":[{"filter":"isValid(datum.label)"}],
"mark":{"type":"rule","color":"#e5ae38","strokeWidth":4,"strokeDash":[15,7]},
"encoding":{
"x":{"datum":-0.003,"type":"quantitative","scale":{"domain":[-0.003,0.059],"nice":false,"zero":false}},
"y":{"datum":-0.003,"type":"quantitative","scale":{"domain":[-0.003,0.059],"nice":false,"zero":false}},
"x2":{"datum":0.059},"y2":{"datum":0.059}}},
{"transform":[{"filter":"isValid(datum.x)"}],
"mark":{"type":"circle","size":46,"color":"#1f77b4","opacity":0.9,"clip":true},
"encoding":{
"x":{"field":"x","type":"quantitative","scale":{"domain":[-0.003,0.059],"nice":false,"zero":false},"axis":{"title":"True KDE","values":[0,0.02,0.04],"format":".2f","titleFontSize":18,"labelPadding":5,"titlePadding":9}},
"y":{"field":"y","type":"quantitative","scale":{"domain":[-0.003,0.059],"nice":false,"zero":false},"axis":{"title":"LSQ-RFF","values":[0,0.025,0.05],"format":".3f","titleFontSize":14,"labelPadding":7,"titlePadding":10}}}},
{"transform":[{"filter":"isValid(datum.label)"}],
"mark":{"type":"text","x":"width","y":"height","dx":-6,"dy":-7,"align":"right","baseline":"alphabetic","fontSize":22,"fontWeight":"bold","color":"black"},
"encoding":{"text":{"field":"label","type":"nominal"}}}
]}
}
